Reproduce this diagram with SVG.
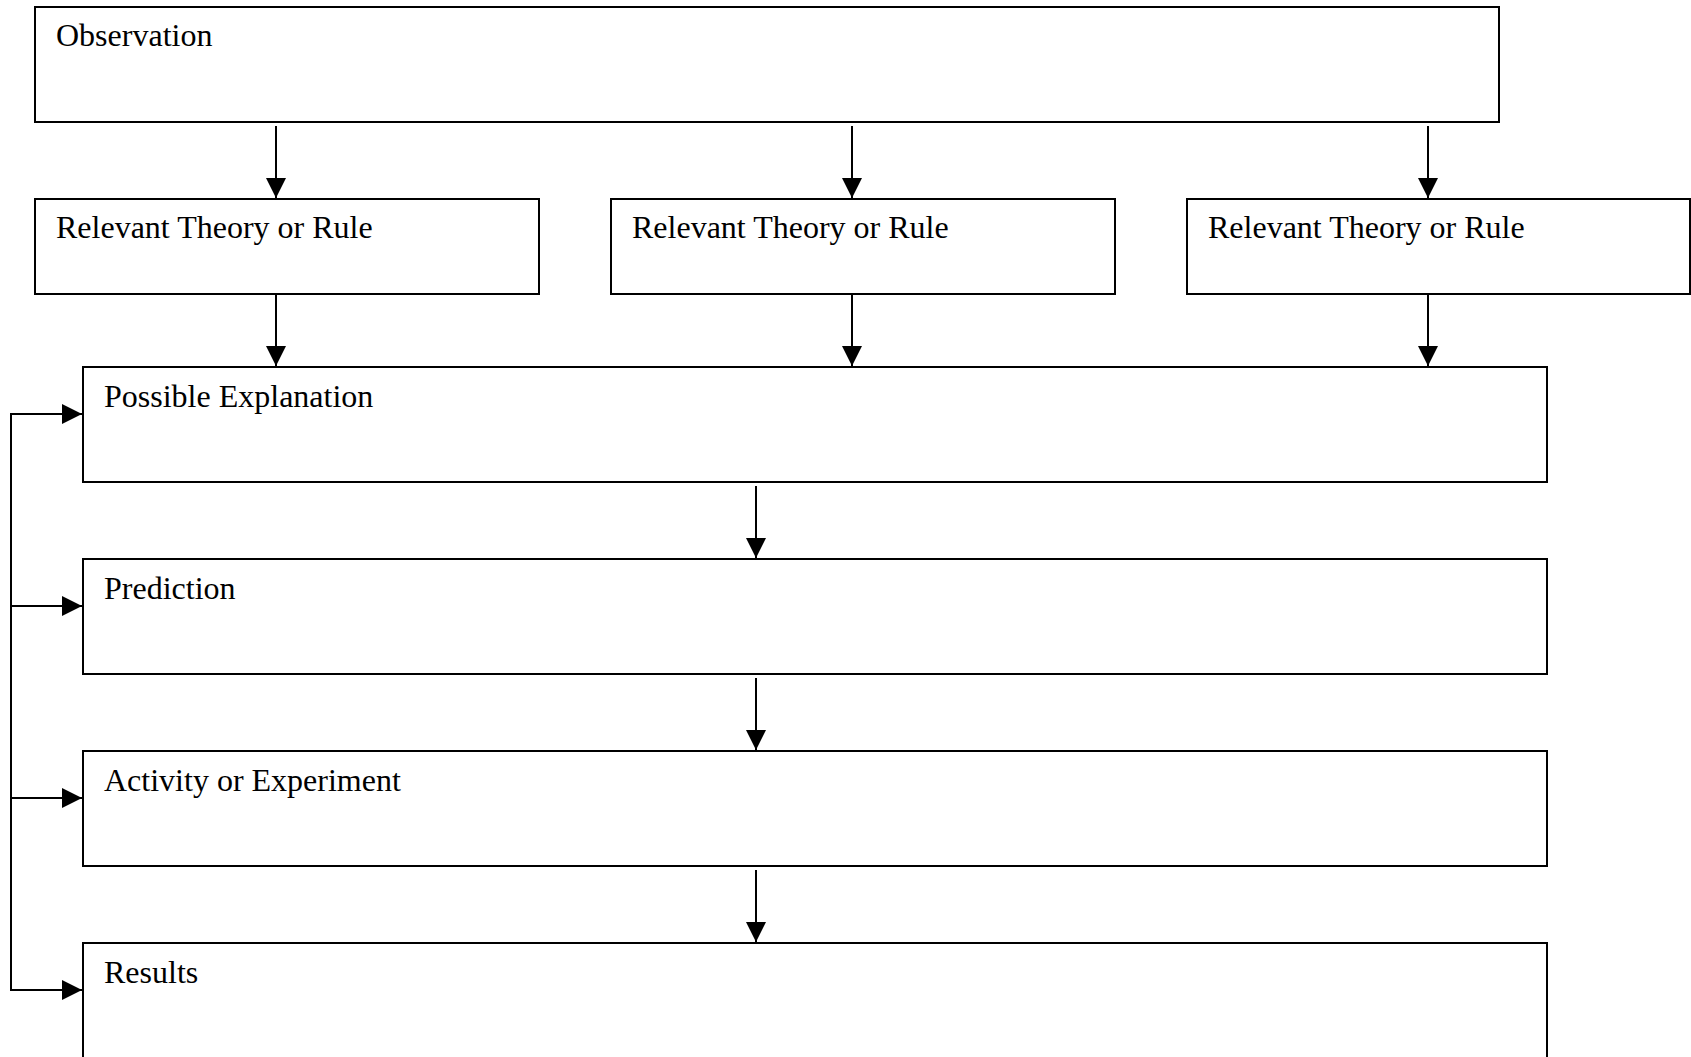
<svg xmlns="http://www.w3.org/2000/svg" width="1691" height="1057" viewBox="0 0 1691 1057">
<style>
.box{fill:#fff;stroke:#000;stroke-width:2}
.lbl{font-family:"Liberation Serif","Times New Roman",serif;font-size:32px;fill:#000}
.con{fill:none;stroke:#000;stroke-width:2}
</style>
<defs>
<marker id="ah" viewBox="0 0 20 20" refX="20" refY="10" markerWidth="20" markerHeight="20" markerUnits="userSpaceOnUse" orient="auto">
<path d="M0,0 L20,10 L0,20 Z" fill="#000"/>
</marker>
</defs>
<rect width="1691" height="1057" fill="#fff"/>
<g id="observation"><rect class="box" x="35" y="7" width="1464" height="115"/><text class="lbl" x="56" y="46">Observation</text></g>
<g id="theory1"><rect class="box" x="35" y="199" width="504" height="95"/><text class="lbl" x="56" y="238">Relevant Theory or Rule</text></g>
<g id="theory2"><rect class="box" x="611" y="199" width="504" height="95"/><text class="lbl" x="632" y="238">Relevant Theory or Rule</text></g>
<g id="theory3"><rect class="box" x="1187" y="199" width="503" height="95"/><text class="lbl" x="1208" y="238">Relevant Theory or Rule</text></g>
<g id="explanation"><rect class="box" x="83" y="367" width="1464" height="115"/><text class="lbl" x="104" y="407">Possible Explanation</text></g>
<g id="prediction"><rect class="box" x="83" y="559" width="1464" height="115"/><text class="lbl" x="104" y="599">Prediction</text></g>
<g id="activity"><rect class="box" x="83" y="751" width="1464" height="115"/><text class="lbl" x="104" y="791">Activity or Experiment</text></g>
<g id="results"><rect class="box" x="83" y="943" width="1464" height="130"/><text class="lbl" x="104" y="983">Results</text></g>
<g id="connectors">
<line class="con" x1="276" y1="126" x2="276" y2="198" marker-end="url(#ah)"/>
<line class="con" x1="852" y1="126" x2="852" y2="198" marker-end="url(#ah)"/>
<line class="con" x1="1428" y1="126" x2="1428" y2="198" marker-end="url(#ah)"/>
<line class="con" x1="276" y1="294" x2="276" y2="366" marker-end="url(#ah)"/>
<line class="con" x1="852" y1="294" x2="852" y2="366" marker-end="url(#ah)"/>
<line class="con" x1="1428" y1="294" x2="1428" y2="366" marker-end="url(#ah)"/>
<line class="con" x1="756" y1="486" x2="756" y2="558" marker-end="url(#ah)"/>
<line class="con" x1="756" y1="678" x2="756" y2="750" marker-end="url(#ah)"/>
<line class="con" x1="756" y1="870" x2="756" y2="942" marker-end="url(#ah)"/>
<line class="con" x1="11" y1="414" x2="11" y2="990"/>
<line class="con" x1="10" y1="414" x2="82" y2="414" marker-end="url(#ah)"/>
<line class="con" x1="11" y1="606" x2="82" y2="606" marker-end="url(#ah)"/>
<line class="con" x1="11" y1="798" x2="82" y2="798" marker-end="url(#ah)"/>
<line class="con" x1="10" y1="990" x2="82" y2="990" marker-end="url(#ah)"/>
</g>
</svg>
